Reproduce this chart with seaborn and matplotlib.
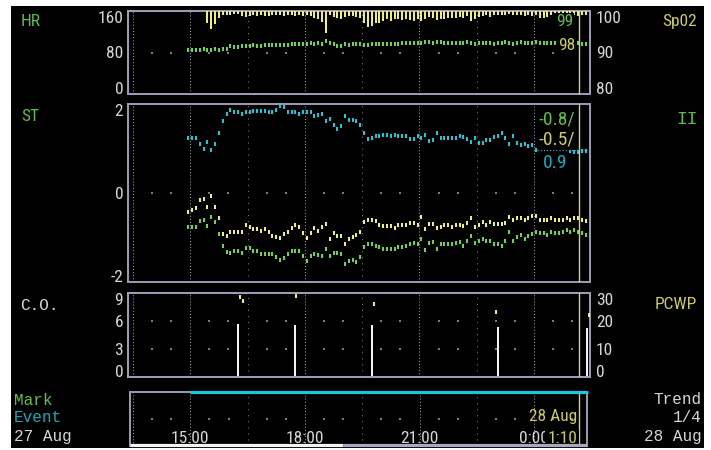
import numpy as np
import pandas as pd
import matplotlib
matplotlib.use("Agg")
import matplotlib.pyplot as plt
import seaborn as sns
from matplotlib import font_manager
from matplotlib.font_manager import FontProperties
from matplotlib.patches import Rectangle

nan = np.nan

# trend samples every 6 min, first one at 14:57 (hours, 24 = 0:00 on 28 Aug)
t_first = 14.95
t_step = 0.1

hr = [84, 85, 85, 85, 86, 85, 85, 86, 85, 86, 87,
      93, 90, 91, 93, 93, 93, 95, 93, 93,
      95, 95, 95, 95, 95, 95, 95, 97, 97, 97, 97, 97,
      99, 97, 99, 97, 102, 99, 96, 93, 93, 97, 95, 97, 97, 97, 95, 95,
      97, 97, 97, 97, 97, 97, 97, 97,
      99, 99, 99, 99, 99, 99, 101, 101, 99, 101, 101,
      99, 99, 99, 99, 99, 99, 101, 99, 97, 99, 99,
      99, 99, 97, 99, 99, 101, 99, 97, 99, 101, 99, 99, 99, 101,
      99, 99, 99, 99, 99, 101, 99, 99, 99, 99, 99, 97, 97]

spo2 = [nan, nan, nan, nan, nan,
        97.0, 95.6, 96.9, 98.2, 99.0, 99.0, 99.0, 99.3, 99.3,
        98.8, 98.6, 98.8, 99.0, 98.8, 99.0, 98.8, 98.8, 99.0, 99.0,
        99.0, 98.8, 99.0, 99.0, 98.8, 99.0, 98.8, 99.0, 98.8, 98.2,
        98.0, 97.4, 94.6, 99.0, 98.6, 98.2, 98.1, 98.6, 98.8, 98.8,
        98.5, 98.2, 97.2, 96.2, 96.5, 97.0, 97.2, 97.7, 98.0, 97.7,
        98.1, 98.1, 97.8, 98.1, 97.8, 97.7, 98.1, 97.7, 98.1, 98.5,
        98.2, 97.8, 98.1, 98.1, 98.2, 98.2, 98.2, 98.5, 98.2, 98.8,
        97.7, 98.1, 98.6,
        98.8, 99.0, 98.5, 99.0, 99.0, 99.0, 99.0, 99.3, 99.0, 99.0,
        99.0, 98.8, 99.0, 98.8, 99.0, 98.2, 98.2, 98.5, 99.0, 99.0,
        98.5, 99.0, 99.0, 99.0, 99.0, 98.8, 99.0, 99.0]

st_cyan = [1.23, 1.23, 1.23, 1.11, 1.00, 1.15, 0.97, 1.09, 1.35, 1.61, 1.77, 1.87,
           1.81, 1.81, 1.77, 1.81, 1.81, 1.84, 1.84, 1.84, 1.84, 1.82, 1.82, 1.87,
           1.96, 1.94, 1.83, 1.81, 1.81, 1.77, 1.83, 1.83, 1.81, 1.72, 1.75, 1.77, 1.61,
           1.66, 1.52, 1.44, 1.50, 1.72, 1.63, 1.65, 1.62, 1.52, 1.34, 1.21, 1.23,
           1.27, 1.29, 1.31, 1.31, 1.29, 1.31, 1.27, 1.28, 1.27, 1.22, 1.21, 1.27,
           1.24, 1.31, 1.16, 1.19, 1.35, 1.24, 1.24, 1.24, 1.24, 1.24, 1.29,
           1.25, 1.21, 1.14, 1.23, 1.12, 1.12, 1.20, 1.20, 1.25, 1.29, 1.34, 1.23,
           1.11, 1.29, 1.13, 1.07, 1.11, 1.05, 1.07, 0.97,
           nan, nan, nan, nan, nan, nan, nan, nan,
           0.95, 0.93, 0.92, 0.94, 0.94]

st_yellow = [-0.43, -0.38, -0.34, -0.15, -0.13, -0.31, -0.07, -0.31, -0.57, -0.92,
             -0.97, -0.88, -0.88, -0.88, -0.88, -0.72, -0.77, -0.80, -0.82, -0.86,
             -0.80, -0.88, -0.96, -0.99, -1.01, -0.92, -0.87, -0.79, -0.73, -0.76,
             -0.89, -1.01, -0.91, -0.79, -0.86, -0.76,
             -0.69, -1.04, -0.90, -0.96, -0.96, -1.14, -1.03, -0.99, -0.94, -0.88,
             -0.65, -0.60, -0.61, -0.64, -0.73, -0.75, -0.75, -0.75, -0.79, -0.73,
             -0.73, -0.73, -0.68, -0.67, -0.73, -0.55, -0.81, -0.69, -0.69, -0.79,
             -0.76, -0.73, -0.73, -0.76, -0.73,
             -0.71, -0.75, -0.67, -0.57, -0.76, -0.71, -0.66, -0.71, -0.66, -0.69,
             -0.69, -0.69, -0.68, -0.54, -0.61, -0.57, -0.57, -0.61, -0.57, -0.52,
             -0.52, -0.60, -0.60, -0.60, -0.57, -0.60, -0.60, -0.60, -0.56, -0.60,
             -0.57, -0.57, -0.60, -0.64]

st_green = [-0.76, -0.76, -0.76, -0.62, -0.61, -0.75, -0.53, -0.66, -0.92, -1.20,
            -1.32, -1.34, -1.30, -1.31, -1.34, -1.24, -1.24, -1.31, -1.31, -1.37,
            -1.36, -1.36, -1.37, -1.44, -1.50, -1.45, -1.37, -1.30, -1.31, -1.30,
            -1.42, -1.52, -1.42, -1.36, -1.40, -1.41, -1.25,
            -1.42, -1.34, -1.34, -1.37, -1.59, -1.52, -1.51, -1.54, -1.44, -1.22,
            -1.14, -1.14, -1.18, -1.22, -1.25, -1.25, -1.25, -1.25, -1.22, -1.22,
            -1.18, -1.14, -1.12, -1.15, -1.03, -1.29, -1.12, -1.09, -1.26, -1.14,
            -1.14, -1.14, -1.15, -1.12, -1.10,
            -1.18, -1.08, -0.97, -1.12, -1.08, -1.03, -1.08, -1.08, -1.14, -1.14,
            -1.20, -1.08, -0.88, -1.07, -0.99, -0.95, -1.03, -0.97, -0.93, -0.88,
            -0.91, -0.91, -0.95, -0.88, -0.91, -0.91, -0.88, -0.84, -0.88, -0.84,
            -0.87, -0.91, -0.94]

co_t = [16.24, 17.73, 19.75, 23.06, 25.38]
co = [5.67, 5.52, 5.52, 5.41, 5.24]
pcwp_t = [16.29, 16.37, 17.78, 19.80, 23.01, 25.43]
pcwp = [28.6, 27.3, 28.8, 26.2, 23.2, 22.3]

hour_ticks = [15, 18, 21, 24]
hour_labels = ["15:00", "18:00", "21:00", "0:00"]
cursor_t = 25 + 10 / 60     # cursor at 1:10
event_from = 15.0
scroll_to = 19.0

df = pd.DataFrame({"t": t_first + t_step * np.arange(len(hr)),
                   "hr": hr, "spo2": spo2,
                   "cyan": st_cyan, "yellow": st_yellow, "green": st_green})


def pick_font(names, default):
    for name in names:
        try:
            font_manager.findfont(FontProperties(family=name), fallback_to_default=False)
            return name
        except ValueError:
            continue
    return default


NARROW = pick_font(["Liberation Sans Narrow", "Roboto Condensed", "Open Sans Condensed"], "Roboto")
MONO = pick_font(["Liberation Mono", "DejaVu Sans Mono"], "DejaVu Sans Mono")

sns.set_theme(style="dark")
plt.rcParams["lines.scale_dashes"] = False
plt.rcParams["font.family"] = [NARROW, "DejaVu Sans"]

FRAME = "#9c9cb4"
TXT = "#d6d6d6"
GREEN = "#62bc48"
GREEN_PT = "#6cd450"
YEL = "#eeee78"
YEL_TXT = "#cccc66"
CYAN = "#1ec6dc"
CYAN_TXT = "#16a8bc"
GRID = "#9a9aaa"
GRID2 = "#7a7a88"

W, H = 711, 450
PX15, PXH = 190.3, 38.2     # x pixel of 15:00 and pixels per hour


def hours_at(px):
    return 15 + (px - PX15) / PXH


fig = plt.figure(figsize=(W / 100, H / 100), dpi=100, facecolor="white")
fig.patches.append(Rectangle((11 / W, 1 - 448 / H), (704 - 11) / W, (448 - 6) / H,
                             transform=fig.transFigure, facecolor="black",
                             edgecolor="none", zorder=-10))


def panel(x0, y0, x1, y1):
    ax = fig.add_axes([x0 / W, 1 - y1 / H, (x1 - x0) / W, (y1 - y0) / H])
    ax.set_facecolor("black")
    for s in ax.spines.values():
        s.set_visible(True)
        s.set_color(FRAME)
        s.set_linewidth(1.4)
    ax.set_xlim(hours_at(x0), hours_at(x1))
    ax.set_xticks([])
    ax.set_xlabel("")
    ax.set_ylabel("")
    ax.grid(False)
    return ax


def grid(ax, levels):
    lo, hi = ax.get_xlim()
    for h in [13.5, 15, 18, 21, 24]:
        ax.axvline(h, color=GRID, lw=0.75, ls=(0, (0.75, 1.5)), zorder=1)
    for h in [16.5, 19.5, 22.5]:
        ax.axvline(h, color=GRID2, lw=0.75, ls=(0, (0.75, 3.6)), zorder=1)
    dots = [h for h in np.arange(14.0, 25.5, 0.5) if (h - 13.5) % 1.5 != 0 and lo < h < hi]
    for lev in levels:
        ax.scatter(dots, [lev] * len(dots), marker="s", s=1.3, color=GRID2,
                   linewidths=0, zorder=1)


def ylabels(ax, ticks, labels, right=False):
    ax.set_yticks(ticks)
    ax.set_yticklabels(labels)
    ax.tick_params(axis="y", length=0, pad=4.2 if right else 3.5,
                   labelsize=12.5, labelcolor=TXT)
    labs = ax.get_yticklabels()
    for lab in labs:
        lab.set_family(NARROW)
        lab.set_va("center_baseline")
    labs[0].set_va("baseline")
    labs[-1].set_va("top")


RECT = [(-1, -2), (1, -2), (1, 2), (-1, 2)]


def points(ax, col, color, data=df):
    sns.scatterplot(data=data, x="t", y=col, ax=ax, marker=RECT, s=8.5,
                    color=color, linewidth=0, legend=False, zorder=3)
    ax.set_xlabel("")
    ax.set_ylabel("")


bar_w = 2 / PXH

# HR / SpO2
ax1 = panel(128, 11, 590, 94)
ax1.set_ylim(0, 160)
grid(ax1, [80])
points(ax1, "hr", GREEN_PT)
ylabels(ax1, [0, 80, 160], ["0", "80", "160"])
ax1b = ax1.twinx()
ax1b.set_ylim(80, 100)
ax1b.bar(df["t"], 100 - df["spo2"], bottom=df["spo2"], width=bar_w,
         color=YEL, linewidth=0, zorder=3)
ax1b.axvline(cursor_t, color="#d8d070", lw=1.0, zorder=4)
ylabels(ax1b, [80, 90, 100], ["80", "90", "100"], right=True)
ax1b.grid(False)
for s in ax1b.spines.values():
    s.set_color(FRAME)
    s.set_linewidth(1.4)

# ST
ax2 = panel(128, 104, 590, 282)
ax2.set_ylim(-2, 2)
grid(ax2, [0])
points(ax2, "cyan", CYAN)
points(ax2, "yellow", YEL)
points(ax2, "green", GREEN_PT)
ax2.hlines(0.965, 24.0, hours_at(587), color=CYAN, lw=1.0, ls=(0, (0.75, 1.5)), zorder=3)
ax2.axvline(cursor_t, color="#d8d070", lw=1.0, zorder=4)
ylabels(ax2, [-2, 0, 2], ["-2", "0", "2"])

# C.O. / PCWP
ax3 = panel(128, 293, 590, 377)
ax3.set_ylim(0, 9)
grid(ax3, [3, 6])
ax3.bar(co_t, co, width=bar_w, color="#f4f4f4", linewidth=0, zorder=3)
ylabels(ax3, [0, 3, 6, 9], ["0", "3", "6", "9"])
ax3b = ax3.twinx()
ax3b.set_ylim(0, 30)
points(ax3b, "pcwp", YEL, data=pd.DataFrame({"t": pcwp_t, "pcwp": pcwp}))
ax3b.axvline(cursor_t, color="#d8d070", lw=1.0, zorder=4)
ylabels(ax3b, [0, 10, 20, 30], ["0", "10", "20", "30"], right=True)
ax3b.grid(False)
for s in ax3b.spines.values():
    s.set_color(FRAME)
    s.set_linewidth(1.4)

# time bar
ax4 = panel(130, 392, 587, 446)
ax4.set_ylim(0, 1)
ax4.set_yticks([])
ax4.spines["bottom"].set_visible(False)
grid(ax4, [0.5])
lo4, hi4 = ax4.get_xlim()
xt = ax4.get_xaxis_transform()
ax4.plot([event_from, hours_at(588)], [1, 1], transform=xt, color=CYAN, lw=2.3,
         solid_capstyle="butt", clip_on=False, zorder=5)
ax4.plot([lo4, scroll_to], [0.02, 0.02], transform=xt, color="#f4f4f4", lw=2.3,
         solid_capstyle="butt", clip_on=False, zorder=7)
ax4.plot([scroll_to, hi4], [0.02, 0.02], transform=xt, color="#a8a8c0", lw=2.3,
         solid_capstyle="butt", clip_on=False, zorder=7)
ax4.axvline(cursor_t, color="#d8d070", lw=1.0, zorder=4)
for h, lab in zip(hour_ticks, hour_labels):
    ax4.text(h, 0.17, lab, transform=xt, ha="center", va="center_baseline",
             color=TXT, fontsize=12.5, family=NARROW, zorder=3)
ax4.text(hours_at(577), 0.17, "1:10", transform=xt, ha="right", va="center_baseline",
         color=YEL_TXT, fontsize=12.5, family=NARROW, zorder=6,
         bbox=dict(facecolor="black", edgecolor="none", pad=1.5))
ax4.text(hours_at(577), 0.58, "28 Aug", transform=xt, ha="right", va="center_baseline",
         color=YEL_TXT, fontsize=12.5, family=NARROW, zorder=6)


def ftext(x, y, s, color, ha="left", mono=False, size=None, **kw):
    if size is None:
        size = 11.5 if mono else 12.5
    fig.text(x / W, 1 - y / H, s, color=color, ha=ha, va="center_baseline",
             family=MONO if mono else NARROW, fontsize=size, **kw)


box = dict(facecolor="black", edgecolor="none", pad=1.0)
ftext(21, 20, "HR", GREEN)
ftext(697, 20, "Sp02", YEL_TXT, ha="right")
ftext(573, 20, "99", GREEN, ha="right", bbox=box)
ftext(575, 44, "98", YEL_TXT, ha="right", bbox=box)
ftext(21, 115, "ST", GREEN)
ftext(698, 117, "II", GREEN, ha="right", mono=True, size=13)
ftext(575, 118, "-0.8/", GREEN, ha="right", size=14, bbox=box)
ftext(575, 138, "-0.5/", YEL_TXT, ha="right", size=14, bbox=box)
ftext(567, 161, "0.9", CYAN_TXT, ha="right", size=14, bbox=box)
ftext(20, 304, "C.O.", TXT, mono=True)
ftext(697, 303, "PCWP", YEL_TXT, ha="right")
ftext(14, 399, "Mark", GREEN, mono=True)
ftext(14, 416.5, "Event", CYAN_TXT, mono=True)
ftext(14, 434.5, "27 Aug", TXT, mono=True)
ftext(702, 397.5, "Trend", TXT, ha="right", mono=True)
ftext(702, 416.5, "1/4", TXT, ha="right", mono=True)
ftext(702, 434.5, "28 Aug", TXT, ha="right", mono=True)

fig.savefig("out.png", dpi=100, facecolor=fig.get_facecolor())
